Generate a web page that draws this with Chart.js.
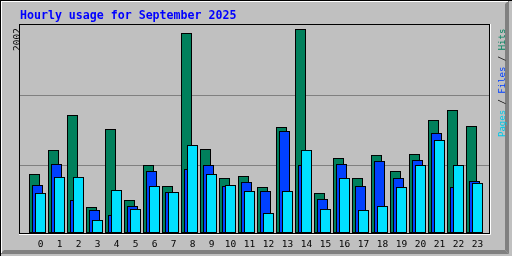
<!DOCTYPE html>
<html>
<head>
<meta charset="utf-8">
<script src="https://cdn.jsdelivr.net/npm/chart.js@4.4.1/dist/chart.umd.min.js"></script>
<style>
  html, body { margin: 0; padding: 0; background: #c0c0c0; }
  canvas { display: block; }
</style>
</head>
<body>
<canvas id="hourly" width="512" height="256"></canvas>
<script>
const title = 'Hourly usage for September 2025';
const hours = ['0', '1', '2', '3', '4', '5', '6', '7', '8', '9', '10', '11',
  '12', '13', '14', '15', '16', '17', '18', '19', '20', '21', '22', '23'];
const hits = [579, 815, 1158, 255, 1021, 324, 667, 461, 1963, 824, 540, 559,
  451, 1040, 2002, 393, 736, 540, 766, 608, 775, 1109, 1207, 1050];
const files = [471, 677, 324, 226, 177, 265, 608, 402, 628, 667, 461, 501,
  412, 1001, 667, 334, 677, 461, 707, 540, 716, 981, 451, 510];
const pages = [393, 550, 550, 128, 422, 236, 461, 402, 864, 579, 471, 412,
  196, 412, 815, 236, 540, 226, 265, 451, 667, 913, 667, 491];
const gridValues = [662, 1349];
const yMax = 2041;

const colors = { hits: '#00805c', files: '#0040ff', pages: '#00e0ff' };
const smallFont = '"DejaVu Sans Mono", monospace';

// webalizer draws the three bars of an hour overlapping, each one shifted a few px
const barShift = {
  id: 'barShift',
  afterDatasetsUpdate(chart) {
    chart.data.datasets.forEach((ds, i) => {
      chart.getDatasetMeta(i).data.forEach(bar => { bar.x += ds.shift; });
    });
  }
};

const decor = {
  id: 'decor',
  beforeDraw(chart) {
    const ctx = chart.ctx;
    const w = chart.width, h = chart.height;
    ctx.save();
    ctx.fillStyle = '#c0c0c0';
    ctx.fillRect(0, 0, w, h);

    // outer bevel
    ctx.fillStyle = '#808080';
    ctx.beginPath();
    ctx.moveTo(w - 7, 4); ctx.lineTo(w - 3, 0); ctx.lineTo(w - 3, h - 2);
    ctx.lineTo(w - 7, h - 6); ctx.closePath(); ctx.fill();
    ctx.beginPath();
    ctx.moveTo(4, h - 6); ctx.lineTo(w - 7, h - 6); ctx.lineTo(w - 3, h - 2);
    ctx.lineTo(0, h - 2); ctx.closePath(); ctx.fill();
    ctx.fillStyle = '#000';
    ctx.fillRect(0, 0, w, 1);
    ctx.fillRect(0, 0, 1, h);
    ctx.fillStyle = '#fff';
    ctx.fillRect(1, 1, w - 5, 1);
    ctx.fillRect(1, 1, 1, h - 4);

    // title
    ctx.fillStyle = '#0000ff';
    ctx.font = 'bold 11.6px "DejaVu Sans Mono", monospace';
    ctx.textBaseline = 'alphabetic';
    ctx.textAlign = 'left';
    ctx.fillText(title, 20, 19);

    const area = chart.chartArea;

    // max value, rotated, top left
    ctx.save();
    ctx.translate(area.left - 0.5, area.top + 3);
    ctx.rotate(-Math.PI / 2);
    ctx.fillStyle = '#000';
    ctx.font = '9.5px ' + smallFont;
    ctx.textAlign = 'right';
    ctx.fillText(String(Math.max(...hits)), 0, 0);
    ctx.restore();

    // legend, rotated, right side
    ctx.save();
    ctx.translate(area.right + 15.5, area.top + 112);
    ctx.rotate(-Math.PI / 2);
    ctx.font = '9px ' + smallFont;
    ctx.textAlign = 'left';
    const parts = [['Pages', '#00c8e8'], [' / ', '#000'], ['Files', colors.files],
      [' / ', '#000'], ['Hits', colors.hits]];
    let x = 0;
    parts.forEach(([text, color]) => {
      ctx.fillStyle = color;
      ctx.fillText(text, x, 0);
      x += ctx.measureText(text).width;
    });
    ctx.restore();
    ctx.restore();
  },
  afterDraw(chart) {
    const ctx = chart.ctx;
    const a = chart.chartArea;
    ctx.save();
    ctx.strokeStyle = '#000';
    ctx.lineWidth = 1;
    ctx.strokeRect(a.left - 0.5, a.top - 0.5, a.right - a.left + 1, a.bottom - a.top + 1);
    ctx.strokeStyle = '#fff';
    ctx.beginPath();
    ctx.moveTo(a.left - 1, a.bottom + 1.5);
    ctx.lineTo(a.right + 1.5, a.bottom + 1.5);
    ctx.lineTo(a.right + 1.5, a.top - 1);
    ctx.stroke();
    ctx.restore();
  }
};

const toPoints = values => values.map((v, i) => ({ x: i, y: v }));
const barStyle = {
  barThickness: 11,
  grouped: false,
  borderWidth: 1,
  borderColor: '#000',
  borderSkipped: false,
  inflateAmount: 0
};

// x spacing: 19px per hour inside a 469px wide plot, first hour 20.5px in
const xMin = -20.5 / 19;
const xMax = xMin + 469 / 19;

new Chart(document.getElementById('hourly'), {
  type: 'bar',
  data: {
    datasets: [
      { label: 'Hits', data: toPoints(hits), backgroundColor: colors.hits, shift: -6, order: 3, ...barStyle },
      { label: 'Files', data: toPoints(files), backgroundColor: colors.files, shift: -3, order: 2, ...barStyle },
      { label: 'Pages', data: toPoints(pages), backgroundColor: colors.pages, shift: 0, order: 1, ...barStyle }
    ]
  },
  options: {
    responsive: false,
    animation: false,
    devicePixelRatio: 1,
    layout: { padding: { top: 25, right: 23, bottom: 0, left: 0 } },
    plugins: {
      legend: { display: false },
      title: { display: false },
      tooltip: { enabled: false }
    },
    scales: {
      x: {
        type: 'linear',
        min: xMin,
        max: xMax,
        offset: false,
        bounds: 'data',
        grid: { display: false, offset: false },
        border: { display: false },
        afterBuildTicks: scale => { scale.ticks = hours.map((_, i) => ({ value: i })); },
        afterFit: scale => { scale.height = 23; },
        ticks: {
          autoSkip: false,
          maxRotation: 0,
          padding: -2,
          color: '#000',
          font: { family: smallFont, size: 9.5 },
          callback: value => hours[value]
        }
      },
      y: {
        min: 0,
        max: yMax,
        border: { display: false },
        grid: { color: '#808080', lineWidth: 1, drawTicks: false },
        ticks: { display: false },
        afterBuildTicks: scale => { scale.ticks = gridValues.map(v => ({ value: v })); },
        afterFit: scale => { scale.width = 20; }
      }
    }
  },
  plugins: [barShift, decor]
});
</script>
</body>
</html>
